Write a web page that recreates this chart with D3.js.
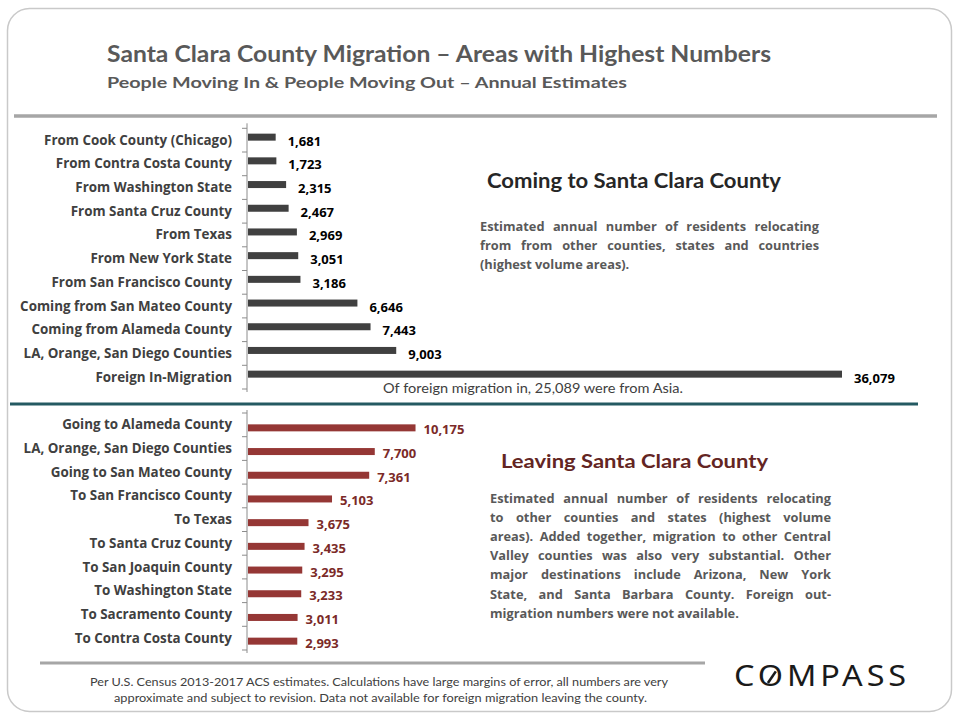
<!DOCTYPE html>
<html>
<head>
<meta charset="utf-8">
<script src="https://cdn.jsdelivr.net/npm/d3@7"></script>
<style>
  body { margin: 0; background: #fff; }
  svg { display: block; font-family: Lato, "Open Sans", sans-serif; }
</style>
</head>
<body>
<svg id="chart"></svg>
<script>
// incoming areas, top to bottom
var inLabels = ["From Cook County (Chicago)", "From Contra Costa County", "From Washington State",
    "From Santa Cruz County", "From Texas", "From New York State", "From San Francisco County",
    "Coming from San Mateo County", "Coming from Alameda County", "LA, Orange, San Diego Counties",
    "Foreign In-Migration"];
var inValues = [1681, 1723, 2315, 2467, 2969, 3051, 3186, 6646, 7443, 9003, 36079];

// outgoing areas, top to bottom
var outLabels = ["Going to Alameda County", "LA, Orange, San Diego Counties", "Going to San Mateo County",
    "To San Francisco County", "To Texas", "To Santa Cruz County", "To San Joaquin County",
    "To Washington State", "To Sacramento County", "To Contra Costa County"];
var outValues = [10175, 7700, 7361, 5103, 3675, 3435, 3295, 3233, 3011, 2993];

var inNote = ["Estimated annual number of  residents relocating",
    "from   from other counties, states and countries",
    "(highest volume areas)."];
var outNote = ["Estimated annual number of  residents relocating",
    "to  other counties and states (highest volume",
    "areas). Added together, migration to other Central",
    "Valley counties was also very substantial. Other",
    "major destinations include Arizona, New York",
    "State, and Santa Barbara County. Foreign out-",
    "migration numbers were not available."];
var footnote = ["Per U.S.  Census 2013-2017 ACS estimates. Calculations  have large margins of error, all numbers are very",
    "approximate and subject to revision.  Data not available  for foreign migration leaving  the county."];

var width = 960;
var height = 720;
var bodyFont = "\"Open Sans\", sans-serif";

var svg = d3.select("svg#chart")
    .attr("width", width)
    .attr("height", height);

// card
svg.append("rect")
    .attr("x", 7.5).attr("y", 8.5)
    .attr("width", 944).attr("height", 703)
    .attr("rx", 22)
    .attr("fill", "#fff")
    .attr("stroke", "#c9c9c9")
    .attr("stroke-width", 1.5);

// squeeze text to a known width (the original font is narrower than ours)
function fit(sel, w) {
    sel.attr("textLength", w).attr("lengthAdjust", "spacingAndGlyphs");
    return sel;
}

fit(svg.append("text")
    .attr("x", 107).attr("y", 62)
    .attr("fill", "#595959")
    .style("font-size", "22px")
    .style("font-weight", "bold")
    .text("Santa Clara County Migration \u2013 Areas with Highest Numbers"), 664);

fit(svg.append("text")
    .attr("x", 107).attr("y", 88)
    .attr("fill", "#595959")
    .style("font-size", "15.5px")
    .style("font-weight", "bold")
    .text("People Moving In & People Moving Out \u2013 Annual Estimates"), 520);

svg.append("line")
    .attr("x1", 14).attr("x2", 937)
    .attr("y1", 116).attr("y2", 116)
    .attr("stroke", "#a6a6a6").attr("stroke-width", 3.5);

var x = d3.scaleLinear()
    .domain([0, d3.max(inValues)])
    .range([248, 842]);

var axisX = 247;

function drawPanel(labels, values, y0, y1, opts) {
    var y = d3.scaleBand()
        .domain(labels)
        .range([y0, y1]);

    var g = svg.append("g");

    // axis line + ticks at the band edges
    g.append("line")
        .attr("x1", axisX).attr("x2", axisX)
        .attr("y1", y0 - opts.axisPad).attr("y2", y1 + 3)
        .attr("stroke", "#8c8c8c").attr("stroke-width", 1);
    g.selectAll(".tick")
        .data(d3.range(labels.length + 1))
        .join("line")
        .attr("class", "tick")
        .attr("x1", axisX - 5).attr("x2", axisX)
        .attr("y1", function(i) { return y0 + i * y.step(); })
        .attr("y2", function(i) { return y0 + i * y.step(); })
        .attr("stroke", "#8c8c8c").attr("stroke-width", 1);

    g.selectAll(".cat")
        .data(labels)
        .join("text")
        .attr("class", "cat")
        .attr("x", 232)
        .attr("y", function(d) { return y(d) + y.bandwidth() / 2 + 4.5; })
        .attr("text-anchor", "end")
        .attr("fill", "#404040")
        .style("font-family", bodyFont)
        .style("font-size", "13.4px")
        .style("font-weight", "bold")
        .text(function(d) { return d; });

    g.selectAll(".bar")
        .data(values)
        .join("rect")
        .attr("class", "bar")
        .attr("x", x(0))
        .attr("y", function(d, i) { return y(labels[i]) + y.bandwidth() / 2 + opts.barShift - 3.5; })
        .attr("width", function(d) { return x(d) - x(0); })
        .attr("height", 7)
        .attr("fill", opts.barColor);

    g.selectAll(".val")
        .data(values)
        .join("text")
        .attr("class", "val")
        .attr("x", function(d) { return x(d) + opts.valGap; })
        .attr("y", function(d, i) { return y(labels[i]) + y.bandwidth() / 2 + opts.valShift + 4.5; })
        .attr("fill", opts.valColor)
        .style("font-family", bodyFont)
        .style("font-size", "13px")
        .style("font-weight", "bold")
        .text(function(d) { return d3.format(",")(d); });

    return y;
}

drawPanel(inLabels, inValues, 128.3, 389, {
    axisPad: 5, barShift: -3, valShift: 1, valGap: 12,
    barColor: "#404040", valColor: "#000"
});

drawPanel(outLabels, outValues, 413, 650, {
    axisPad: 3, barShift: 3, valShift: 5, valGap: 8,
    barColor: "#953735", valColor: "#7b2a28"
});

fit(svg.append("text")
    .attr("x", 383).attr("y", 393)
    .attr("fill", "#404040")
    .style("font-size", "13px")
    .text("Of foreign migration in, 25,089  were from Asia."), 300);

svg.append("line")
    .attr("x1", 10).attr("x2", 918)
    .attr("y1", 404).attr("y2", 404)
    .attr("stroke", "#245a62").attr("stroke-width", 3);

// panel headings
fit(svg.append("text")
    .attr("x", 487).attr("y", 188)
    .attr("fill", "#262626")
    .style("font-size", "20px")
    .style("font-weight", "bold")
    .text("Coming to Santa Clara County"), 294);

fit(svg.append("text")
    .attr("x", 501).attr("y", 468)
    .attr("fill", "#632523")
    .style("font-size", "19px")
    .style("font-weight", "bold")
    .text("Leaving Santa Clara County"), 267);

// justified paragraphs, word-spacing stretched per line
function paragraph(lines, x0, x1, top, lh) {
    var w = x1 - x0;
    lines.forEach(function(line, i) {
        var words = line.split(/\s+/);
        var t = svg.append("text")
            .attr("x", x0).attr("y", top + i * lh)
            .attr("fill", "#595959")
            .style("font-family", bodyFont)
            .style("font-size", "12.8px")
            .style("font-weight", "bold")
            .text(words.join(" "));
        var natural = t.node().getComputedTextLength();
        if (i < lines.length - 1 && words.length > 1) {
            t.style("word-spacing", ((w - natural) / (words.length - 1)) + "px");
        }
    });
}

paragraph(inNote, 480, 819, 230.5, 19);
paragraph(outNote, 490, 831, 502.5, 19.2);

svg.append("line")
    .attr("x1", 40).attr("x2", 705)
    .attr("y1", 663).attr("y2", 663)
    .attr("stroke", "#a6a6a6").attr("stroke-width", 3);

fit(svg.append("text")
    .attr("x", 90).attr("y", 686)
    .attr("fill", "#404040")
    .style("font-size", "12px")
    .text(footnote[0]), 578);

fit(svg.append("text")
    .attr("x", 114).attr("y", 701.5)
    .attr("fill", "#404040")
    .style("font-size", "12px")
    .text(footnote[1]), 533);

// logo, the O carries a slash
var logo = svg.append("text")
    .attr("x", 734).attr("y", 686)
    .attr("fill", "#1a1a1a")
    .style("font-family", "\"Noto Sans\", sans-serif")
    .style("font-size", "29px")
    .style("letter-spacing", "3.5px")
    .text("COMPASS");
fit(logo, 176);
var o = logo.node().getExtentOfChar(1);
svg.append("line")
    .attr("x1", o.x + o.width * 0.35).attr("y1", o.y + o.height * 0.72)
    .attr("x2", o.x + o.width * 0.62).attr("y2", o.y + o.height * 0.42)
    .attr("stroke", "#1a1a1a").attr("stroke-width", 2.6);
</script>
</body>
</html>
